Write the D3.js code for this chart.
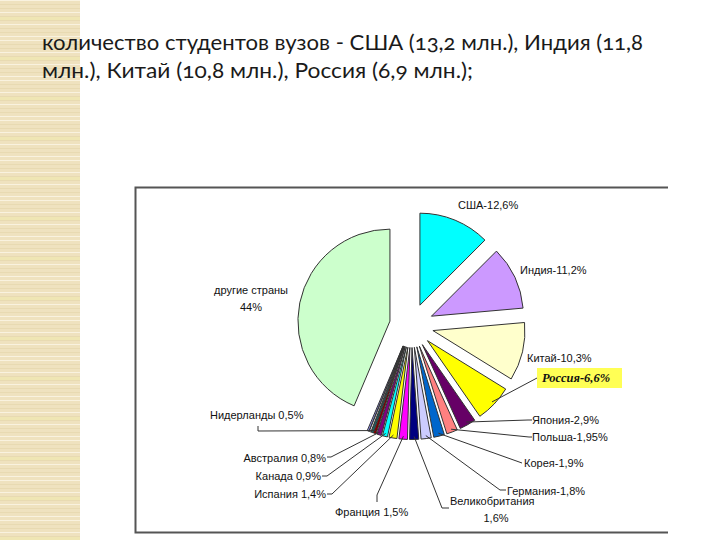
<!DOCTYPE html>
<html>
  <head>
    <meta charset="utf-8" />
    <title>Студенты вузов</title>
    <script src="https://d3js.org/d3.v7.min.js"></script>
    <style>
      body { margin: 0; background: #fff; }
      svg { display: block; }
      .lbl { font-family: "Liberation Sans", Arial, sans-serif; font-size: 11px; fill: #111; }
    </style>
  </head>
  <body>
    <div id="chart"></div>
    <script>
      // data (pie slices, clockwise from 12 o'clock)
      const countries = ["США", "Индия", "Китай", "Россия", "Япония", "Польша", "Корея", "Германия",
        "Великобритания", "Франция", "Испания", "Канада", "Австралия", "Нидерланды", "x1", "x2", "x3", "другие страны"];
      const shares = [12.6, 11.2, 10.3, 6.6, 2.9, 1.95, 1.9, 1.8, 1.6, 1.5, 1.4, 0.9, 0.8, 0.5, 0.3, 0.3, 0.3, 44];
      const labels = ["США-12,6%", "Индия-11,2%", "Китай-10,3%", "Россия-6,6%", "Япония-2,9%", "Польша-1,95%",
        "Корея-1,9%", "Германия-1,8%", "Великобритания|1,6%", "Франция 1,5%", "Испания 1,4%", "Канада 0,9%",
        "Австралия 0,8%", "Нидерланды 0,5%", "", "", "", "другие страны|44%"];
      const colors = ["#00ffff", "#cc99ff", "#ffffcc", "#ffff00", "#660066", "#ff8080", "#0066cc", "#ccccff",
        "#000080", "#ff00ff", "#ffff00", "#00ffff", "#800080", "#800000", "#008080", "#ffffff", "#9999ff", "#ccffcc"];
      const title = ["количество студентов вузов - США (13,2 млн.), Индия (11,8",
        "млн.), Китай (10,8 млн.), Россия (6,9 млн.);"];

      const W = 720, H = 540;
      const cx = 411.5, cy = 325.5, R = 92, explode = 22;

      // where each label sits and how its leader line bends (layout only)
      const layout = {
        "США": { x: 458, y: 209 },
        "Индия": { x: 520, y: 274 },
        "Китай": { x: 527, y: 362 },
        "Россия": { x: 542, y: 382, pts: [[537, 378], [541, 378]], hi: true },
        "Япония": { x: 532, y: 424, pts: [[528, 420], [532, 420]] },
        "Польша": { x: 532, y: 441, pts: [[529, 437], [532, 437]] },
        "Корея": { x: 524, y: 467, pts: [[522, 463]] },
        "Германия": { x: 507, y: 495, pts: [[500, 490], [506, 490]] },
        "Великобритания": { x: 450, y: 505, pts: [[442, 508], [449, 508]], second: [496, 522] },
        "Франция": { x: 335, y: 516, pts: [[377, 495], [377, 502]] },
        "Испания": { x: 326, y: 498, anchor: "end", pts: [[332, 494], [327, 494]] },
        "Канада": { x: 321, y: 480, anchor: "end", pts: [[327, 476], [322, 476]] },
        "Австралия": { x: 326, y: 462, anchor: "end", pts: [[331, 457], [327, 457]] },
        "Нидерланды": { x: 210, y: 419, pts: [[258, 431], [258, 426]] },
        "другие страны": { x: 251, y: 294, anchor: "middle", second: [251, 311] }
      };

      const svg = d3.select("#chart").append("svg").attr("width", W).attr("height", H);

      // striped side band
      const defs = svg.append("defs");
      const pat = defs.append("pattern").attr("id", "band").attr("patternUnits", "userSpaceOnUse")
        .attr("width", 80).attr("height", 40);
      pat.append("rect").attr("width", 80).attr("height", 40).attr("fill", "#efe2bf");
      d3.range(0, 40, 4).forEach((y, i) => {
        pat.append("rect").attr("y", y).attr("width", 80).attr("height", 1)
          .attr("fill", i % 3 === 0 ? "#f9f2df" : "#e8dab2");
      });
      pat.append("rect").attr("y", 17).attr("width", 80).attr("height", 3).attr("fill", "#efe6b4");
      svg.append("rect").attr("width", 80).attr("height", H).attr("fill", "url(#band)");

      // title
      const tl = [601, 431];
      svg.append("g").selectAll("text").data(title).join("text")
        .attr("x", 42).attr("y", (d, i) => 50 + i * 28)
        .attr("textLength", (d, i) => tl[i]).attr("lengthAdjust", "spacingAndGlyphs")
        .style("font-family", "Lato, 'Open Sans', sans-serif").style("font-size", "21px")
        .style("font-feature-settings", "'onum'").attr("fill", "#1a1a1a").text(d => d);

      // chart frame (right side is off the picture)
      svg.append("path").attr("d", "M668,187.5H135.5V532.5H668")
        .attr("fill", "none").attr("stroke", "#555").attr("stroke-width", 2);

      const data = countries.map((c, i) => ({ name: c, value: shares[i], color: colors[i], label: labels[i] }));
      const arcs = d3.pie().value(d => d.value).sort(null).startAngle(0).endAngle(2 * Math.PI)(data);
      const arc = d3.arc().innerRadius(0).outerRadius(R);

      const offset = a => {
        const m = (a.startAngle + a.endAngle) / 2;
        return [cx + explode * Math.sin(m), cy - explode * Math.cos(m)];
      };

      svg.append("g").selectAll("path").data(arcs).join("path")
        .attr("transform", d => `translate(${offset(d)})`)
        .attr("d", arc)
        .attr("fill", d => d.data.color)
        .attr("stroke", "#333").attr("stroke-width", 1).attr("stroke-linejoin", "round");

      // leader lines
      const line = d3.line();
      arcs.forEach(a => {
        const L = layout[a.data.name];
        if (!L || !L.pts) return;
        const m = (a.startAngle + a.endAngle) / 2;
        const o = offset(a);
        const start = [o[0] + (R - 3) * Math.sin(m), o[1] - (R - 3) * Math.cos(m)];
        svg.append("path").attr("d", line([start, ...L.pts]))
          .attr("fill", "none").attr("stroke", "#333").attr("stroke-width", 1);
      });

      // labels
      arcs.forEach(a => {
        const L = layout[a.data.name];
        if (!L) return;
        const parts = a.data.label.split("|");
        if (L.hi) {
          svg.append("rect").attr("x", 537).attr("y", 368).attr("width", 85).attr("height", 20)
            .attr("fill", "#ffff55");
          svg.append("text").attr("x", L.x).attr("y", L.y)
            .style("font-family", "'Liberation Serif', 'Times New Roman', serif")
            .style("font-size", "12.5px").style("font-weight", "bold").style("font-style", "italic")
            .attr("fill", "#111").text(parts[0]);
          return;
        }
        svg.append("text").attr("class", "lbl").attr("x", L.x).attr("y", L.y)
          .attr("text-anchor", L.anchor || "start").text(parts[0]);
        if (parts[1]) {
          svg.append("text").attr("class", "lbl").attr("x", L.second[0]).attr("y", L.second[1])
            .attr("text-anchor", "middle").text(parts[1]);
        }
      });
    </script>
  </body>
</html>
